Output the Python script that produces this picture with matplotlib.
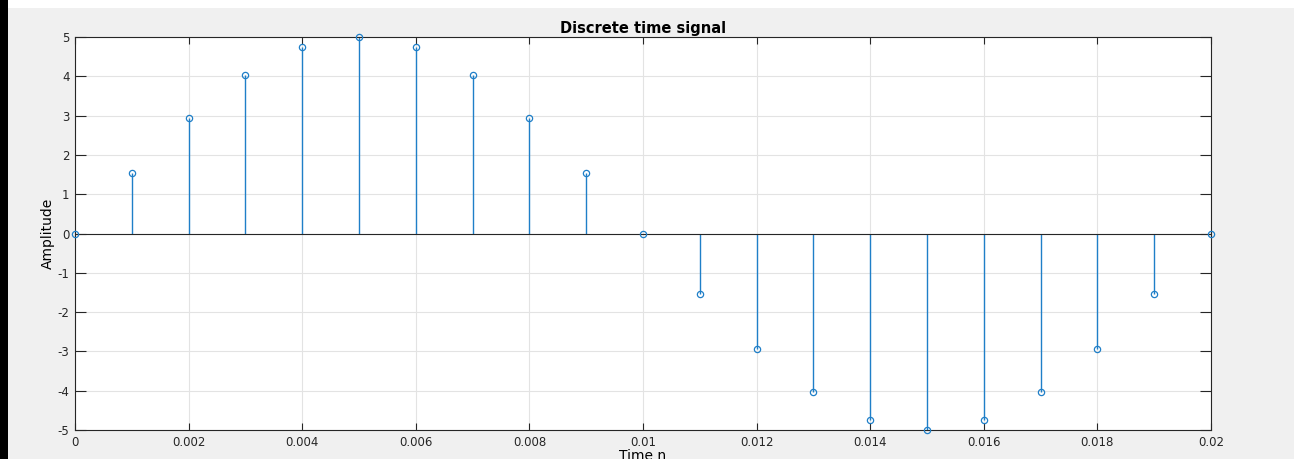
import matplotlib
matplotlib.use("Agg")
import matplotlib.pyplot as plt
from matplotlib.patches import Rectangle

# sample times (s) and amplitudes
n = [0.000, 0.001, 0.002, 0.003, 0.004, 0.005, 0.006, 0.007, 0.008, 0.009, 0.010,
     0.011, 0.012, 0.013, 0.014, 0.015, 0.016, 0.017, 0.018, 0.019, 0.020]
amp = [0.0, 1.545, 2.939, 4.045, 4.755, 5.0, 4.755, 4.045, 2.939, 1.545, 0.0,
       -1.545, -2.939, -4.045, -4.755, -5.0, -4.755, -4.045, -2.939, -1.545, 0.0]
xticks = [0, 0.002, 0.004, 0.006, 0.008, 0.01, 0.012, 0.014, 0.016, 0.018, 0.02]
xtick_labels = ['0', '0.002', '0.004', '0.006', '0.008', '0.01', '0.012', '0.014', '0.016', '0.018', '0.02']
yticks = [-5, -4, -3, -2, -1, 0, 1, 2, 3, 4, 5]

plt.rcParams['font.family'] = ['DejaVu Sans']
plt.rcParams['axes.unicode_minus'] = False

W, H = 1294, 459
fig = plt.figure(figsize=(W / 100, H / 100), dpi=100)
fig.patch.set_facecolor('#f0f0f0')

# screenshot border: white strip on top, black strip on the left
fig.patches.append(Rectangle((0, 1 - 8 / H), 1, 8 / H, transform=fig.transFigure,
                             facecolor='white', edgecolor='none', zorder=-1))
fig.patches.append(Rectangle((0, 0), 8 / W, 1, transform=fig.transFigure,
                             facecolor='black', edgecolor='none', zorder=-1))

left, right, top, bottom = 75, 1211, 37, 430
ax = fig.add_axes([left / W, (H - bottom) / H, (right - left) / W, (bottom - top) / H])
ax.set_facecolor('white')

blue = '#1f7fc8'
markerline, stemlines, baseline = ax.stem(n, amp, basefmt='k-')
plt.setp(stemlines, color=blue, linewidth=1.0)
plt.setp(markerline, color=blue, marker='o', markersize=4.5,
         markerfacecolor='none', markeredgewidth=0.9, clip_on=False, zorder=5)
plt.setp(baseline, color='#262626', linewidth=0.8)

ax.set_xlim(0, 0.02)
ax.set_ylim(-5, 5)
ax.set_xticks(xticks)
ax.set_xticklabels(xtick_labels)
ax.set_yticks(yticks)
ax.grid(True, color='#e3e3e3', linewidth=0.8)
ax.set_axisbelow(True)

ax.tick_params(direction='in', top=True, right=True, labelsize=8.5,
               colors='#262626', width=0.8)
ax.tick_params(axis='y', length=8, pad=4)
ax.tick_params(axis='x', length=5, pad=4)
for s in ax.spines.values():
    s.set_color('#262626')
    s.set_linewidth(0.8)

ax.set_title('Discrete time signal', fontsize=10.5, fontweight='bold', pad=3)
ax.set_ylabel('Amplitude', family='Liberation Sans Narrow', fontsize=10, labelpad=2)
ax.set_xlabel('Time n', fontsize=10, labelpad=0)

fig.savefig('out.png', dpi=100, facecolor=fig.get_facecolor())
